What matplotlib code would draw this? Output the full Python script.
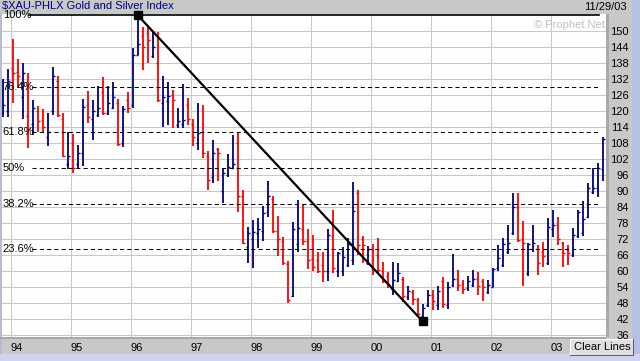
import matplotlib
matplotlib.use('Agg')
import matplotlib.pyplot as plt
import pandas as pd
from matplotlib.patches import Rectangle

plt.rcParams['font.family'] = ['Liberation Sans', 'DejaVu Sans']
plt.rcParams['font.size'] = 8

# monthly bars, Nov 1993 .. Nov 2003
months = pd.date_range('1993-11-01', periods=121, freq='MS')
opens = [119, 120, 136, 134.5, 125, 118, 115, 120, 116.5, 110, 120, 131, 117, 100, 108, 100,
         104, 122, 117, 118.5, 127, 119, 121, 123, 108, 124, 122, 141, 148, 149, 140.5,
         138, 123, 123.5, 126, 114.5, 115, 122, 115, 108, 112, 103, 95, 105.5, 90, 96,
         98.5, 108, 88, 69, 72, 74, 75, 82, 87, 75, 71, 62.5, 50.5, 70, 75.5,
         71, 64.5, 64, 62, 60, 73, 60, 60, 62, 64, 89, 72, 63, 68, 66,
         60, 58, 53, 56, 57, 50, 52, 49, 43, 47, 51, 47, 56, 47, 54.5,
         57, 55, 53.5, 54.5, 57, 56, 52, 54, 61, 62, 67, 74, 84, 72, 59,
         68, 68, 67, 63, 75.5, 77, 70.5, 68, 66, 73, 74, 80, 89.5, 91, 98]
highs = [131.8, 135.5, 147, 139.5, 138, 134, 124, 121.8, 120.5, 119, 136.3, 133, 119, 112, 111.2, 107.3,
         124.3, 127.5, 124, 129.3, 132.8, 129.3, 130.9, 124.4, 121.9, 126.9, 143.4, 155.8, 151.5, 151.5, 149.5,
         149.6, 133, 130.9, 127.8, 120.9, 130, 124.6, 116.9, 123, 122.1, 105, 109, 105.9, 98.4, 103.8,
         110.9, 111.8, 90.3, 76.3, 79, 79.6, 84.2, 93.6, 88, 80.5, 72.5, 63.8, 78.4, 86.5, 85,
         75.5, 73.4, 67.1, 67.1, 75.5, 82.8, 67.1, 69, 72.2, 93.1, 90.3, 73, 69.3, 70, 72.2,
         63.4, 59.6, 63.4, 63, 57.8, 54.4, 52.8, 49.7, 47.5, 52.8, 52.8, 54.2, 57.5, 55.9, 66.4,
         60.3, 56.5, 58, 60.3, 59.6, 56.8, 56.5, 60.9, 69.6, 72.2, 77.1, 89.3, 89.3, 78.8, 70.4,
         77.1, 69.6, 70.9, 79.6, 82.8, 80.3, 70.9, 69.6, 76.1, 82.8, 86, 93, 98.4, 100.5, 110.1]
lows = [117.5, 117.8, 123, 128.4, 116.8, 106, 111, 112, 111.8, 106.8, 118.5, 117.8, 102.5, 98.2, 96.6, 98.6,
        99.3, 115.5, 109, 117.5, 118.4, 118.4, 120.5, 106.8, 106.5, 119, 120.9, 140.9, 135.4, 138, 139.7,
        123.4, 113.8, 114.6, 113.6, 113.6, 113.4, 114.6, 106.8, 105.3, 102.4, 90.3, 93, 93.8, 85.5, 95,
        98, 82.1, 70, 63, 60.9, 68.4, 71.2, 80.2, 74.3, 65.5, 62.1, 48, 50, 67.2, 69.6,
        60.5, 60, 59.3, 55.9, 56.3, 59.3, 57.8, 58, 61.5, 62.1, 66, 63, 62, 58.4, 59.3,
        55.3, 53.4, 50.9, 55.9, 48.4, 49, 47.1, 43.5, 41, 46.3, 45.3, 45.4, 46, 45.5, 54,
        52.5, 51.3, 52.5, 53.8, 50.9, 48.8, 51.3, 53.8, 60, 61.3, 66.3, 73.4, 70.9, 54.3, 58.2,
        67.1, 58.4, 61.3, 62.1, 72.5, 69.6, 61.5, 62.1, 65.3, 72.2, 73, 79.7, 88.8, 87.5, 93.8]
closes = [122, 131, 134, 133, 134, 113, 121, 116, 114, 112, 133, 118.5, 103, 103, 98.5, 104,
          121.5, 117.5, 120, 121, 119, 123, 125, 107.5, 120.5, 121, 141, 145, 144, 146.5, 144,
          124, 125, 125.5, 124, 116, 116.5, 117, 110, 111.5, 104, 94, 104, 104, 96.5, 99,
          100, 88, 70.5, 74, 74.5, 75.5, 81.5, 88, 75, 72, 63, 49, 75.5, 76, 71,
          64, 61.5, 60, 60, 73.5, 61, 66.5, 65, 70, 82.3, 69.5, 69.5, 68, 60.3, 60.3,
          56, 55, 56.5, 59, 50.5, 52.5, 49.3, 43.8, 46, 51, 48.8, 52.4, 47.5, 54, 57,
          54.5, 53, 56, 57, 54.3, 54, 54.5, 60.5, 64.7, 70, 70.5, 84, 71.5, 70.5, 70,
          70.5, 63, 65.5, 76.5, 77, 72, 66.5, 66.5, 73.4, 82, 79.5, 91, 91, 98.4, 109.5]

year_ticks = list(range(1994, 2004))
year_labels = ['94', '95', '96', '97', '98', '99', '00', '01', '02', '03']
price_ticks = list(range(36, 151, 6))
fib_ratios = [1.0, 0.764, 0.618, 0.5, 0.382, 0.236]
fib_labels = ['100%', '76.4%', '61.8%', '50%', '38.2%', '23.6%']

W, H = 640, 361
fig = plt.figure(figsize=(6.4, 3.61), dpi=100)
fig.patch.set_facecolor('#c8c8c8')


def box(x0, y0, x1, y1, color, z=-1, **kw):
    # pixel box, y measured from the top
    r = Rectangle((x0 / W, 1 - y1 / H), (x1 - x0) / W, (y1 - y0) / H,
                  transform=fig.transFigure, facecolor=color, edgecolor='none', zorder=z, **kw)
    fig.add_artist(r)
    return r


box(0, 0, 640, 361, '#c8c8c8')
box(632, 0, 640, 361, '#b4c0e4')
box(0, 354, 640, 361, '#ccd4f0')
box(0, 13, 2, 354, '#b8bcd0')
box(606, 14, 609, 337, '#a8a8a8')
box(0, 337, 606, 339, '#a8a8a8')

ax = fig.add_axes([2 / W, 1 - 337 / H, 604 / W, 323 / H])
ax.set_facecolor('white')
for s in ax.spines.values():
    s.set_visible(False)

x = [m.year + (m.month - 1) / 12 + 1 / 30 for m in months]
ax.set_xlim(1993.855, 2003.922)
ax.set_ylim(35.14, 156.26)

ax.set_xticks(year_ticks)
ax.set_xticklabels(year_labels)
ax.set_yticks(price_ticks)
ax.set_yticklabels([str(v) for v in price_ticks])
ax.grid(True, color='#c8c8c8', lw=0.75, zorder=0)
ax.set_axisbelow(True)
ax.yaxis.tick_right()
ax.tick_params(axis='y', length=0, pad=16.5, labelsize=8)
for lb in ax.get_yticklabels():
    lb.set_horizontalalignment('right')
ax.tick_params(axis='x', length=0, pad=4.5, labelsize=8)
for lb in ax.get_xticklabels():
    lb.set_horizontalalignment('left')

# OHLC bars
tick = 2 / 60
cols = ['#000080' if c >= o else '#ff0000' for o, c in zip(opens, closes)]
ax.vlines(x, lows, highs, colors=cols, lw=1.3, zorder=3)
ax.hlines(opens, [v - tick for v in x], x, colors=cols, lw=1.0, zorder=3)
ax.hlines(closes, x, [v + tick for v in x], colors=cols, lw=1.0, zorder=3)

# fibonacci retracement from the peak to the low
i_hi = highs.index(max(highs))
i_lo = lows.index(min(lows))
hi, lo = highs[i_hi], lows[i_lo]
yt = ax.get_yaxis_transform()
for r, lab in zip(fib_ratios, fib_labels):
    lev = lo + r * (hi - lo)
    if r == 1.0:
        ax.plot([0.045, 0.988], [lev, lev], transform=yt, color='black', lw=1.2,
                clip_on=False, zorder=4)
    else:
        ax.plot([0.0497, 0.988], [lev, lev], transform=yt, color='black', lw=0.75,
                ls=(0, (4, 3)), zorder=4)
    ax.text(0.001, lev, lab, transform=yt, ha='left', va='center', fontsize=8,
            color='black', clip_on=False, zorder=6)

ax.plot([x[i_hi], x[i_lo]], [hi, lo], color='black', lw=1.6, zorder=5)
ax.plot([x[i_hi], x[i_lo]], [hi, lo], ls='none', marker='s', ms=6, color='black',
        clip_on=False, zorder=6)

# header
fig.text(2 / W, 1 - 6.5 / H, '$XAU-PHLX Gold and Silver Index', color='#000080',
         ha='left', va='center', fontsize=8)
fig.text(627 / W, 1 - 6.5 / H, '11/29/03', color='black', ha='right', va='center', fontsize=8)
fig.text(605 / W, 1 - 25.5 / H, '\u00a9 Prophet.Net', color='#c0c0c0', ha='right',
         va='center', fontsize=8, zorder=7)

# button
box(570, 339, 634, 356, '#e0e0e0', z=8)
box(570, 339, 634, 340, 'white', z=9)
box(570, 339, 571, 356, 'white', z=9)
box(570, 355, 634, 356, '#606060', z=9)
box(633, 339, 634, 356, '#606060', z=9)
fig.text(602 / W, 1 - 347.5 / H, 'Clear Lines', color='black', ha='center', va='center',
         fontsize=8, zorder=10)

fig.savefig('out.png', dpi=100, facecolor=fig.get_facecolor())
